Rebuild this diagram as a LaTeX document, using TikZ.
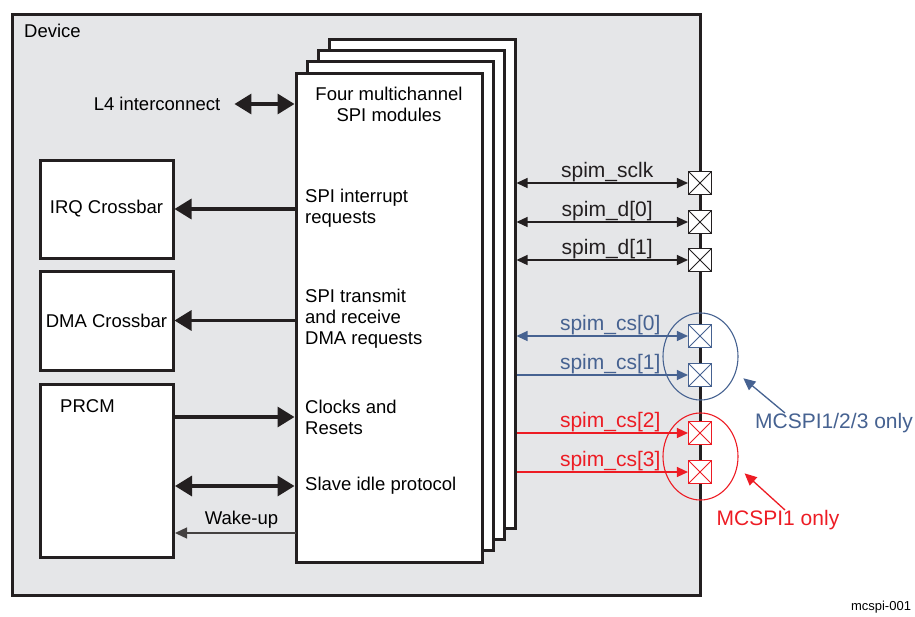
\documentclass[tikz,border=0pt]{standalone}
\usepackage{fontspec}
\setmainfont{Liberation Sans}
\usetikzlibrary{arrows.meta,positioning,shapes.geometric}
\definecolor{devgray}{RGB}{229,230,232}
\definecolor{darkline}{RGB}{35,31,32}
\definecolor{csblue}{RGB}{70,98,145}
\definecolor{csred}{RGB}{237,28,36}

\begin{document}
\begin{tikzpicture}[
  x=1pt, y=-1pt,
  txt/.style={font=\fontsize{18.5}{21}\selectfont, align=left, inner sep=0pt},
  sig/.style={font=\fontsize{21}{24}\selectfont, inner sep=1pt},
  blk/.style={draw=darkline, line width=3pt, fill=white, minimum width=133pt, inner sep=0pt, font=\fontsize{18.5}{21}\selectfont},
  mod/.style={draw=darkline, line width=3pt, fill=white, minimum width=186pt, minimum height=489pt},
  padbox/.style={draw=#1, fill=white, line width=1.1pt, minimum size=23pt, inner sep=0pt,
    path picture={\draw[#1, line width=0.8pt]
      (path picture bounding box.north west) -- (path picture bounding box.south east)
      (path picture bounding box.south west) -- (path picture bounding box.north east);}},
  bus/.style={draw=darkline, line width=3.3pt, -{Triangle[length=17pt,width=20pt]}},
  busboth/.style={draw=darkline, line width=3.3pt, {Triangle[length=17pt,width=20pt]}-{Triangle[length=17pt,width=20pt]}},
  wire/.style={line width=1.25pt, -{Triangle[length=11pt,width=10pt]}},
  wireboth/.style={line width=1.25pt, {Triangle[length=11pt,width=10pt]}-{Triangle[length=11pt,width=10pt]}},
  wakearr/.style={draw=darkline!85, line width=1.3pt, -{Triangle[length=12pt,width=11pt]}},
  grp/.style={ellipse, draw=#1, line width=1.1pt, minimum width=75pt, minimum height=87pt},
  note/.style={font=\fontsize{21}{24}\selectfont, text=#1, inner sep=0pt},
  callout/.style={draw=#1, line width=1.3pt, -{Triangle[length=12pt,width=11pt]}}
]
\useasboundingbox (0,0) rectangle (915,616);

% Device frame
\node[draw=darkline, line width=3pt, fill=devgray, minimum width=688pt, minimum height=581pt, inner sep=0pt] (dev) at (356,304.5) {};
\node[txt, anchor=west] (devlbl) at (24,31) {Device};

% SPI modules, back to front
\node[mod] (m4) at (422,284) {};
\node[mod] (m3) at (411,295) {};
\node[mod] (m2) at (400,306) {};
\node[mod] (spi) at (389,317.5) {};
\node[txt, align=center, below=15pt of spi.north] (title) {Four multichannel\\SPI modules};
\node[txt, anchor=west] (irqreq) at (305,208) {SPI interrupt\\requests};
\node[txt, anchor=west] (dmareq) at (305,319) {SPI transmit\\and receive\\DMA requests};
\node[txt, anchor=west] (clkrst) at (305,417) {Clocks and\\Resets};
\node[txt, anchor=west] (idle) at (305,486) {Slave idle protocol};

% Left blocks
\node[blk, minimum height=98pt] (irq) at (106.5,209) {IRQ Crossbar};
\node[blk, minimum height=99pt] (dma) at (106.5,320.5) {DMA Crossbar};
\node[blk, minimum height=173pt] (prcm) at (107,470.5) {};
\node[txt, anchor=west] (prcmlbl) at (60,406) {PRCM};
\node[txt] (l4) at (157,104) {L4 interconnect};
\coordinate (wake) at (296,533);

\draw[busboth] ([xshift=14pt]l4.east) -- (spi.west |- l4);
\draw[bus] (spi.west |- irq) -- (irq);
\draw[bus] (spi.west |- dma) -- (dma);
\draw[bus] (prcm.east |- clkrst) -- (spi.west |- clkrst);
\draw[busboth] (prcm.east |- idle) -- (spi.west |- idle);
\draw[wakearr] (wake) -- node[txt, above=4pt, xshift=6pt] {Wake-up} (wake -| prcm.east);

% Pads on the device edge
\node[padbox=darkline] (sclk) at (700,183) {};
\node[padbox=darkline] (d0) at (700,222) {};
\node[padbox=darkline] (d1) at (700,260) {};
\node[padbox=csblue] (cs0) at (700,336) {};
\node[padbox=csblue] (cs1) at (700,375) {};
\node[padbox=csred] (cs2) at (700,433) {};
\node[padbox=csred] (cs3) at (700,472) {};

\draw[wireboth, darkline] (m4.east |- sclk) -- node[sig, above, xshift=5pt] {spim\_sclk} (sclk);
\draw[wireboth, darkline] (m4.east |- d0) -- node[sig, above, xshift=5pt] {spim\_d[0]} (d0);
\draw[wireboth, darkline] (m4.east |- d1) -- node[sig, above, xshift=5pt] {spim\_d[1]} (d1);
\draw[wireboth, csblue] (m4.east |- cs0) -- node[sig, above, xshift=8pt, text=csblue] {spim\_cs[0]} (cs0);
\draw[wire, csblue] (m4.east |- cs1) -- node[sig, above, xshift=8pt, text=csblue] {spim\_cs[1]} (cs1);
\draw[wire, csred] (m4.east |- cs2) -- node[sig, above, xshift=8pt, text=csred] {spim\_cs[2]} (cs2);
\draw[wire, csred] (m4.east |- cs3) -- node[sig, above, xshift=8pt, text=csred] {spim\_cs[3]} (cs3);

% Instance groups
\node[grp=csblue] (grpA) at (700.5,356.5) {};
\node[grp=csred] (grpB) at (700.5,456.5) {};
\node[note=csblue] (onlyA) at (834,423) {MCSPI1/2/3 only};
\node[note=csred] (onlyB) at (778,520) {MCSPI1 only};
\draw[callout=csblue] ([xshift=-49pt]onlyA.north) -- ([shift={(8,4)}]grpA.-27);
\draw[callout=csred] ([xshift=7pt]onlyB.north) -- ([shift={(8,3)}]grpB.-21);

\node[font=\fontsize{13}{15}\selectfont, inner sep=0pt] (figid) at (881,607) {mcspi-001};
\end{tikzpicture}
\end{document}
